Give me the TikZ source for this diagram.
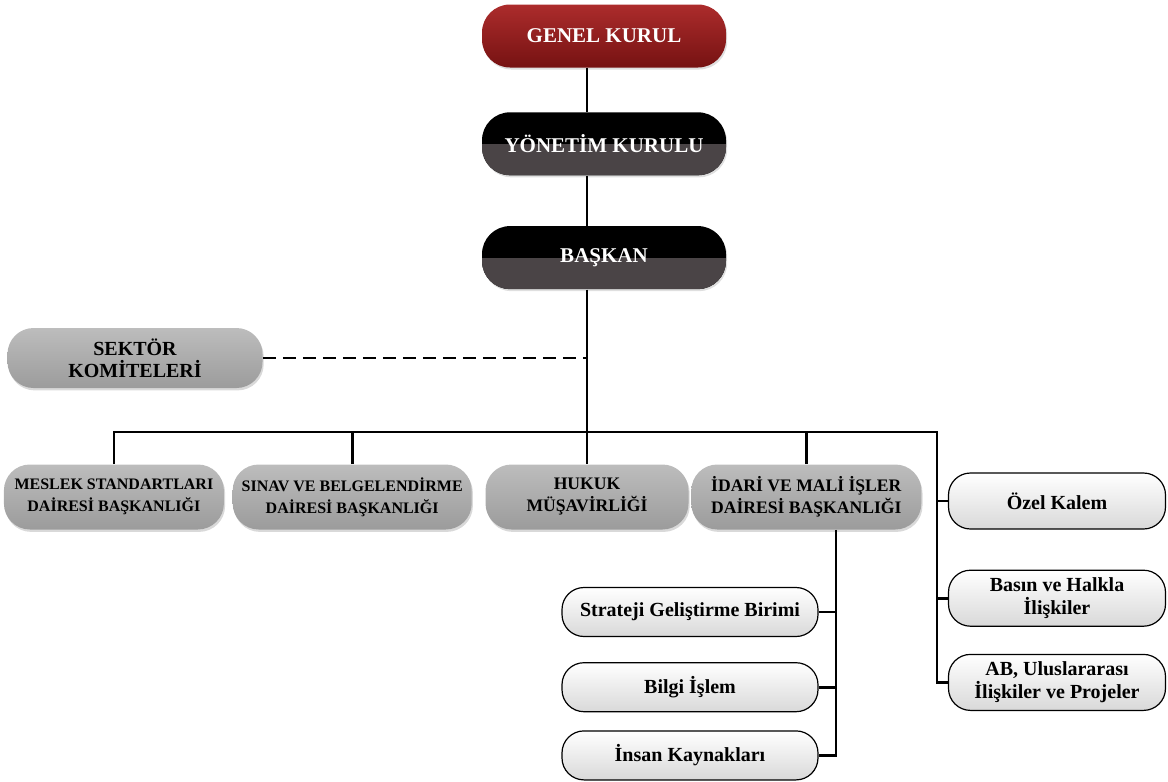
\documentclass[tikz,border=0pt]{standalone}
\usepackage{fontspec}
\setmainfont{Liberation Serif}
\usepackage{tikz}
\usetikzlibrary{positioning, shadows}
\definecolor{boardtop}{RGB}{172,44,44}
\definecolor{boardbottom}{RGB}{118,18,18}
\definecolor{execgrey}{RGB}{74,68,70}
\tikzstyle{board}=[rectangle, rounded corners=14pt, minimum width=122pt, minimum height=31.5pt, text centered, text=white, font=\bfseries\fontsize{10.5}{12}\selectfont, drop shadow={opacity=0.25, shadow xshift=0.6pt, shadow yshift=-1pt}]
\tikzstyle{general}=[board, top color=boardtop, bottom color=boardbottom]
\tikzstyle{executive}=[board, fill=black, path picture={\fill[execgrey, sharp corners] (path picture bounding box.west) rectangle (path picture bounding box.south east);}]
\tikzstyle{unit}=[rectangle, rounded corners=13pt, minimum height=32.5pt, inner xsep=2pt, align=center, top color=gray!52, bottom color=gray!78, font=\bfseries\fontsize{8.8}{11}\selectfont, drop shadow={opacity=0.3, shadow xshift=0.6pt, shadow yshift=-1.2pt}]
\tikzstyle{office}=[rectangle, rounded corners=11pt, draw=black, line width=0.6pt, align=center, top color=white, bottom color=gray!30, font=\bfseries\fontsize{10}{11.5}\selectfont]
\tikzstyle{line}=[line width=1.4pt]
\tikzstyle{dashline}=[line width=1.4pt, dash pattern=on 6.5pt off 3.5pt]

\begin{document}
\begin{tikzpicture}[x=0.5pt, y=0.5pt]
	\useasboundingbox (0,0) rectangle (1168,-782);
	
	\node(genel)[general] at (604,-36){GENEL KURUL};
	\node(yonetim)[executive, below=22pt of genel]{YÖNETİM KURULU};
	\node(baskan)[executive, below=25pt of yonetim]{BAŞKAN};
	
	\node(sektor)[unit, minimum width=127.5pt, minimum height=30pt, font=\bfseries\fontsize{10}{11}\selectfont] at (135,-358){SEKTÖR\\KOMİTELERİ};
	
	\node(hukuk)[unit, minimum width=101.5pt] at (587,-497){HUKUK\\MÜŞAVİRLİĞİ};
	\node(idari)[unit, minimum width=115pt, right=1pt of hukuk]{İDARİ VE MALİ İŞLER\\DAİRESİ BAŞKANLIĞI};
	\node(sinav)[unit, minimum width=119.5pt, left=6.5pt of hukuk, font=\bfseries\fontsize{8}{11}\selectfont]{SINAV VE BELGELENDİRME\\DAİRESİ BAŞKANLIĞI};
	\node(meslek)[unit, minimum width=110pt, left=4pt of sinav, font=\bfseries\fontsize{8}{11}\selectfont]{MESLEK STANDARTLARI\\DAİRESİ BAŞKANLIĞI};
	
	\node(ozel)[office, minimum width=108.5pt, minimum height=28pt] at (1057,-501){Özel Kalem};
	\node(basin)[office, minimum width=108.5pt, minimum height=28pt, below=20pt of ozel]{Basın ve Halkla\\İlişkiler};
	\node(ab)[office, minimum width=108.5pt, minimum height=28pt, below=13.5pt of basin]{AB, Uluslararası\\İlişkiler ve Projeler};
	
	\node(strateji)[office, minimum width=128pt, minimum height=24.5pt] at (690,-612){Strateji Geliştirme Birimi};
	\node(bilgi)[office, minimum width=128pt, minimum height=24.5pt, below=12.5pt of strateji]{Bilgi İşlem};
	\node(insan)[office, minimum width=128pt, minimum height=24.5pt, below=9pt of bilgi]{İnsan Kaynakları};
	
	\coordinate(spine) at (hukuk.north);
	\coordinate(rail) at (937,-432);
	\coordinate(subrail) at (836,-540);
	
	\draw[line](genel.south -| spine)--(yonetim.north -| spine);
	\draw[line](yonetim.south -| spine)--(baskan.north -| spine);
	\draw[line](baskan.south -| spine)--(hukuk.north);
	\draw[dashline](sektor.east)--(sektor.east -| spine);
	\draw[line](meslek.north) |- (rail) |- (ab.west);
	\draw[line](sinav.north)--(sinav.north |- rail);
	\draw[line](idari.north)--(idari.north |- rail);
	\draw[line](ozel.west)--(ozel.west -| rail);
	\draw[line](basin.west)--(basin.west -| rail);
	\draw[line](idari.south -| subrail) |- (insan.east);
	\draw[line](strateji.east)--(strateji.east -| subrail);
	\draw[line](bilgi.east)--(bilgi.east -| subrail);
\end{tikzpicture}
\end{document}
